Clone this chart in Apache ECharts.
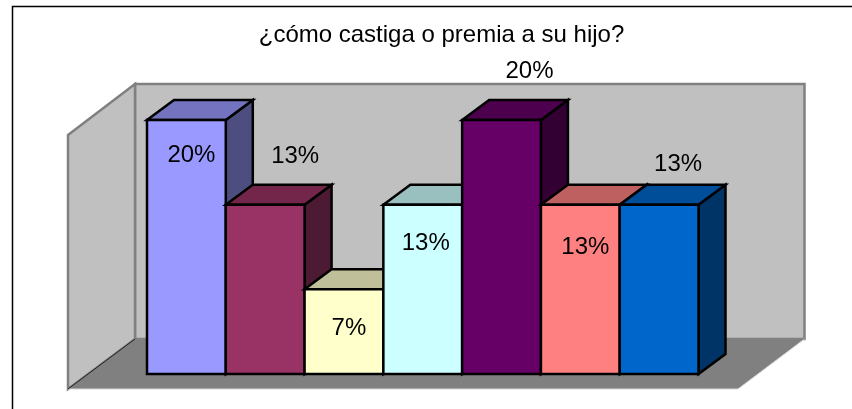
<!DOCTYPE html>
<html>
<head>
<meta charset="utf-8">
<style>html,body{margin:0;padding:0;background:#fff}#c{width:852px;height:409px}</style>
<script src="https://cdn.jsdelivr.net/npm/echarts@6/dist/echarts.min.js"></script>
</head>
<body>
<div id="c"></div>
<script>
const titleText = '¿cómo castiga o premia a su hijo?';
const categories = ['1', '2', '3', '4', '5', '6', '7'];
const values = [20, 13.33, 6.67, 13.33, 20, 13.33, 13.33];
const labels = ['20%', '13%', '7%', '13%', '20%', '13%', '13%'];
const frontColors = ['#9999FF', '#993366', '#FFFFCC', '#CCFFFF', '#660066', '#FF8080', '#0066CC'];
const topColors = ['#7373BF', '#732649', '#BFBF99', '#99BFBF', '#4D004D', '#BF6060', '#004D99'];
const sideColors = ['#4D4D80', '#4D1A33', '#808066', '#668080', '#330033', '#804040', '#003366'];

// layout constants
const axisMax = 20;
const depthX = 27, depthY = 20;
const labelOffsets = [[5, 35], [30, -48], [5, 39], [3, 39], [28, -49], [5, 43], [19, -40]];
const fontFamily = '"Liberation Sans", Arial, sans-serif';

function renderWalls(params, api) {
  const band = api.size([1, 0])[0];
  const left = api.coord([0, 0])[0] - band / 2;
  const right = api.coord([categories.length - 1, 0])[0] + band / 2;
  const y0 = api.coord([0, 0])[1];
  const yT = api.coord([0, axisMax])[1];
  const fl = left - 79, fr = right + 39.5, fy = y0 + 15;
  const bl = fl + 67, br = fr + 66.5, by = y0 - 35, byT = yT - 36, fyT = yT + 15;
  const wall = { fill: '#C0C0C0', stroke: '#808080', lineWidth: 2.5 };
  return {
    type: 'group',
    children: [
      { type: 'polygon', shape: { points: [[bl, byT], [br, byT], [br, by], [bl, by]] }, style: wall },
      { type: 'polygon', shape: { points: [[fl, fyT], [bl, byT], [bl, by], [fl, fy]] }, style: wall },
      { type: 'polygon', shape: { points: [[fl, fy], [bl, by], [br, by], [fr, fy]] }, style: { fill: '#808080', stroke: null } },
      { type: 'polyline', shape: { points: [[fl, fy], [fr, fy], [br, by]] }, style: { fill: null, stroke: '#D8D8D8', lineWidth: 1 } },
      { type: 'line', shape: { x1: fl, y1: fy, x2: bl, y2: by }, style: { stroke: '#202020', lineWidth: 1 } }
    ]
  };
}

function renderBar(params, api) {
  const i = api.value(0);
  const band = api.size([1, 0])[0];
  const [cx, yT] = api.coord([i, api.value(1)]);
  const y0 = api.coord([i, 0])[1];
  const l = cx - band / 2, r = cx + band / 2;
  const edge = { stroke: '#000', lineWidth: 2.5, lineJoin: 'miter' };
  return {
    type: 'group',
    children: [
      { type: 'polygon', shape: { points: [[r, yT], [r + depthX, yT - depthY], [r + depthX, y0 - depthY], [r, y0]] },
        style: Object.assign({ fill: sideColors[i] }, edge) },
      { type: 'polygon', shape: { points: [[l, yT], [l + depthX, yT - depthY], [r + depthX, yT - depthY], [r, yT]] },
        style: Object.assign({ fill: topColors[i] }, edge) },
      { type: 'polygon', shape: { points: [[l, yT], [r, yT], [r, y0], [l, y0]] },
        style: Object.assign({ fill: frontColors[i] }, edge) }
    ]
  };
}

function renderLabel(params, api) {
  const i = api.value(0);
  const [cx, yT] = api.coord([i, api.value(1)]);
  return {
    type: 'text',
    z2: 100,
    style: {
      x: cx + labelOffsets[i][0], y: yT + labelOffsets[i][1],
      text: labels[i], fill: '#000', font: '24px ' + fontFamily,
      align: 'center', verticalAlign: 'middle'
    }
  };
}

const barData = categories.map((c, i) => [i, values[i]]);
const chart = echarts.init(document.getElementById('c'), null, { renderer: 'canvas' });
chart.setOption({
  animation: false,
  backgroundColor: '#fff',
  title: {
    text: titleText, left: 436.5, top: 18, textAlign: 'center',
    textStyle: { color: '#000', fontFamily: fontFamily, fontSize: 24, fontWeight: 'normal' }
  },
  graphic: [{
    type: 'polyline', silent: true,
    shape: { points: [[12.5, 420], [12.5, 6.5], [860, 6.5]] },
    style: { fill: null, stroke: '#000', lineWidth: 1.5 }
  }],
  grid: { left: 147, top: 120, width: 551.5, height: 254 },
  xAxis: { type: 'category', data: categories, show: false },
  yAxis: { type: 'value', min: 0, max: axisMax, interval: 20, show: false },
  series: [
    { type: 'custom', silent: true, z: 1, renderItem: renderWalls, data: [[0, 0]], encode: { x: 0, y: 1 } },
    { type: 'custom', silent: true, z: 2, renderItem: renderBar, data: barData, encode: { x: 0, y: 1 } },
    { type: 'custom', silent: true, z: 3, renderItem: renderLabel, data: barData, encode: { x: 0, y: 1 } }
  ]
});
</script>
</body>
</html>
